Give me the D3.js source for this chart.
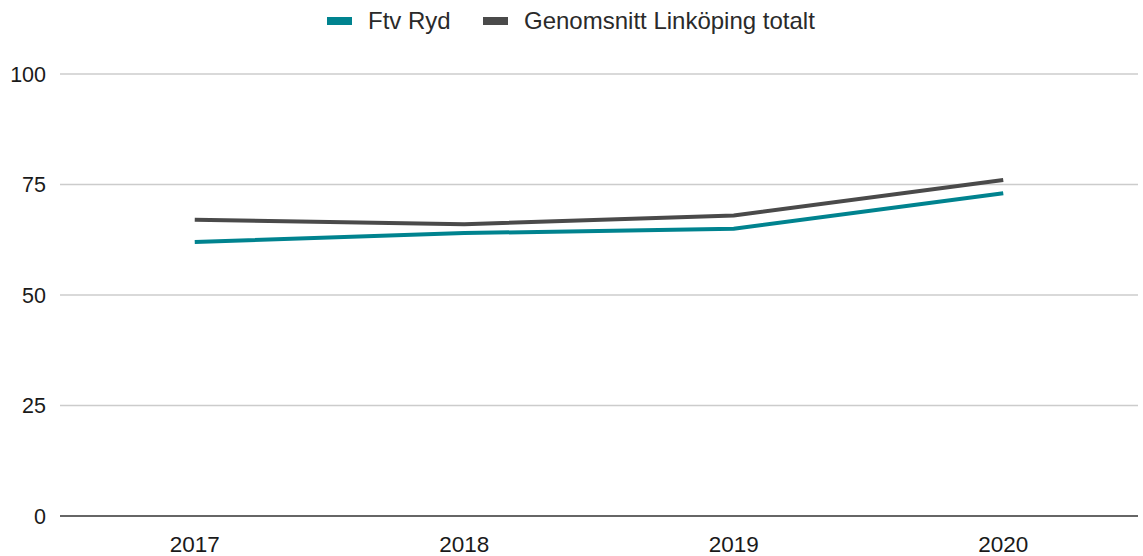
<!DOCTYPE html>
<html>
<head>
<meta charset="utf-8">
<script src="https://cdn.jsdelivr.net/npm/d3@7"></script>
<style>
  body { margin: 0; background: #fff; }
  text { font-family: "Liberation Sans", Arial, sans-serif; fill: #1a1a1a; }
</style>
</head>
<body>
<div id="chart"></div>
<script>
const width = 1143, height = 556;
const margin = {top: 74, right: 5, bottom: 40, left: 60};

const years = ["2017", "2018", "2019", "2020"];
const ftvRyd = [62, 64, 65, 73];
const linkopingTotalt = [67, 66, 68, 76];
const yTicks = [0, 25, 50, 75, 100];

const series = [
  {name: "Ftv Ryd", values: ftvRyd, color: "#00838f"},
  {name: "Genomsnitt Linköping totalt", values: linkopingTotalt, color: "#4a4a4a"}
];

let svg = d3.select("#chart")
  .append("svg")
  .attr("width", width)
  .attr("height", height);

let x = d3.scaleBand()
  .domain(years)
  .range([margin.left, width - margin.right]);

let y = d3.scaleLinear()
  .domain([0, 100])
  .range([height - margin.bottom, margin.top]);

// gridlines
svg.append("g")
  .selectAll("line")
  .data(yTicks.filter(d => d > 0))
  .join("line")
  .attr("x1", margin.left)
  .attr("x2", width - margin.right)
  .attr("y1", d => y(d))
  .attr("y2", d => y(d))
  .attr("stroke", "#cccccc")
  .attr("stroke-width", 1.5);

// y labels
svg.append("g")
  .selectAll("text")
  .data(yTicks)
  .join("text")
  .attr("x", margin.left - 14)
  .attr("y", d => y(d))
  .attr("dy", "0.35em")
  .attr("text-anchor", "end")
  .style("font-size", "21.5px")
  .text(d => d);

// x axis
svg.append("line")
  .attr("x1", margin.left)
  .attr("x2", width - margin.right)
  .attr("y1", y(0))
  .attr("y2", y(0))
  .attr("stroke", "#333")
  .attr("stroke-width", 1.5);

svg.append("g")
  .selectAll("text")
  .data(years)
  .join("text")
  .attr("x", d => x(d) + x.bandwidth() / 2)
  .attr("y", y(0) + 36)
  .attr("text-anchor", "middle")
  .style("font-size", "22.5px")
  .text(d => d);

let line = d3.line()
  .x((d, i) => x(years[i]) + x.bandwidth() / 2)
  .y(d => y(d));

svg.append("g")
  .selectAll("path")
  .data(series)
  .join("path")
  .attr("fill", "none")
  .attr("stroke", d => d.color)
  .attr("stroke-width", 4)
  .attr("d", d => line(d.values));

// legend
let legendX = [327, 483];
let legend = svg.append("g")
  .selectAll("g")
  .data(series)
  .join("g")
  .attr("transform", (d, i) => "translate(" + legendX[i] + ",21)");

legend.append("rect")
  .attr("x", 0)
  .attr("y", -4)
  .attr("width", 25)
  .attr("height", 8)
  .attr("fill", d => d.color);

legend.append("text")
  .attr("x", 41)
  .attr("dy", "0.35em")
  .style("font-size", "24px")
  .style("fill", "#2a2a2a")
  .text(d => d.name);
</script>
</body>
</html>
